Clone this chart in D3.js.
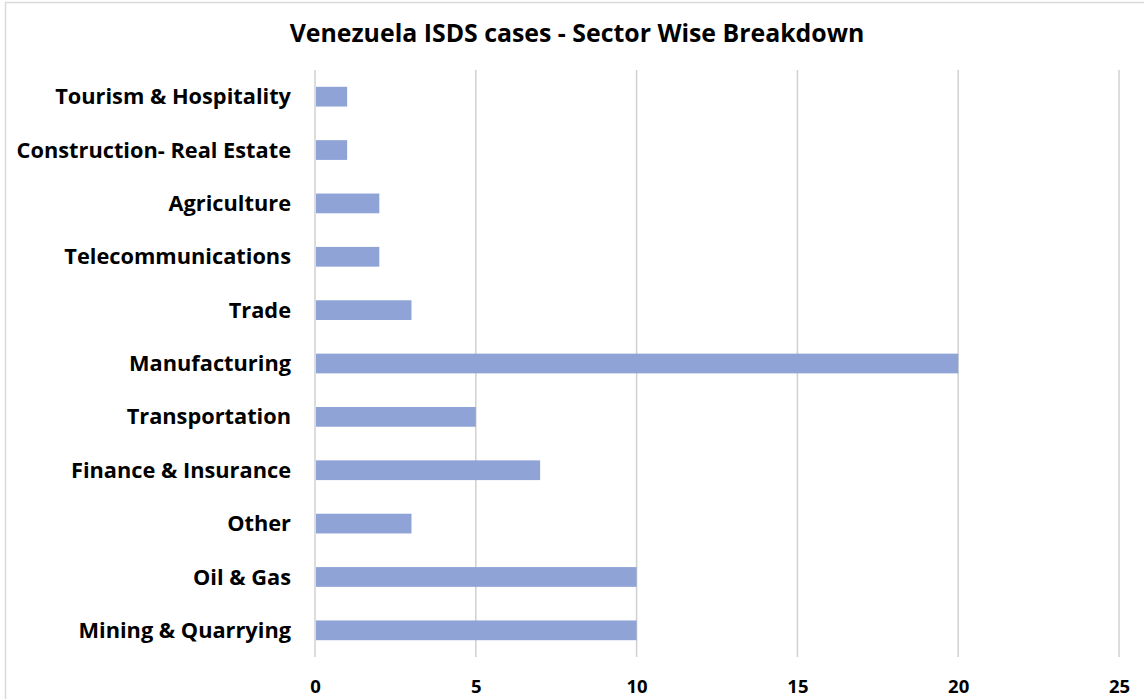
<!DOCTYPE html>
<html><head><meta charset="utf-8">
<script src="https://cdn.jsdelivr.net/npm/d3@7"></script>
<style>html,body{margin:0;padding:0;background:#fff;}svg{display:block;}</style>
</head><body>
<svg id="c" width="1144" height="699"></svg>
<script>
const categories = ["Tourism & Hospitality","Construction- Real Estate","Agriculture","Telecommunications","Trade","Manufacturing","Transportation","Finance & Insurance","Other","Oil & Gas","Mining & Quarrying"];
const values = [1,1,2,2,3,20,5,7,3,10,10];
const tickValues = [0,5,10,15,20,25];
const title = "Venezuela ISDS cases - Sector Wise Breakdown";

const svg = d3.select("#c");
const font = "'Open Sans', Lato, sans-serif";
// border
svg.append("rect").attr("x",5.5).attr("y",2.5).attr("width",1150).attr("height",720)
  .attr("fill","none").attr("stroke","#d9d9d9").attr("stroke-width",1.5);

const x = d3.scaleLinear().domain([0,25]).range([315,1119]);
const y = d3.scaleBand().domain(categories).range([70,657]).paddingInner(0.63).paddingOuter(0.315);

const g = svg.append("g");
g.selectAll("line.grid").data(tickValues).join("line").attr("class","grid")
  .attr("x1",d=>x(d)).attr("x2",d=>x(d)).attr("y1",70).attr("y2",657)
  .attr("stroke","#d0d0d0").attr("stroke-width",1.5);

g.selectAll("rect.bar").data(values).join("rect").attr("class","bar")
  .attr("x",x(0)+1).attr("y",(d,i)=>y(categories[i]))
  .attr("width",d=>x(d)-x(0)-1).attr("height",y.bandwidth())
  .attr("fill","#8fa3d6");

// fit size so "Tourism & Hospitality" ~236px wide
const probe = svg.append("text").attr("font-family",font).attr("font-weight","bold").attr("font-size",20).text(categories[0]);
const labelSize = 20*236/probe.node().getComputedTextLength();
probe.text(title);
const titleSize = 20*575/probe.node().getComputedTextLength();
probe.remove();

g.selectAll("text.cat").data(categories).join("text").attr("class","cat")
  .attr("x",291).attr("y",d=>y(d)+y.bandwidth()/2).attr("dy","0.35em")
  .attr("text-anchor","end").attr("font-family",font).attr("font-weight","bold")
  .attr("font-size",labelSize).attr("fill","#000").text(d=>d);

const xAxis = d3.axisBottom(x).tickValues(tickValues).tickSize(0).tickPadding(0);
const ax = svg.append("g").attr("transform","translate(0,687)").call(xAxis);
ax.select(".domain").remove();
ax.selectAll("text").attr("font-family",font).attr("font-weight","bold").attr("font-size",labelSize*0.85)
  .attr("fill","#000").attr("dy","0.35em").attr("y",0);

svg.append("text").attr("x",577).attr("y",33).attr("dy","0.35em").attr("text-anchor","middle")
  .attr("font-family",font).attr("font-weight","bold").attr("font-size",titleSize).attr("fill","#000").text(title);
</script>
</body></html>
